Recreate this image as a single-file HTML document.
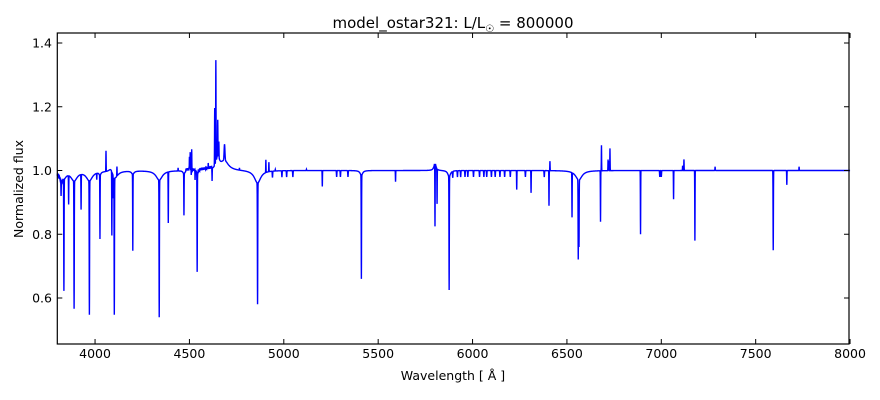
<!DOCTYPE html>
<html><head><meta charset="utf-8"><style>
body{margin:0;background:#fff;width:880px;height:400px;overflow:hidden}
svg{display:block;font-family:"DejaVu Sans","Liberation Sans",sans-serif}
</style></head><body>
<svg id="s" width="880" height="400" xmlns="http://www.w3.org/2000/svg">
<rect width="880" height="400" fill="#fff"/>
<text x="453" y="28" font-size="15" text-anchor="middle">model_ostar321: L/L<tspan font-size="10" dy="4">☉</tspan><tspan dy="-4"> = 800000</tspan></text>
<g id="plot"></g>
<rect x="57.3" y="33" width="791.7" height="311" fill="none" stroke="#000" stroke-width="1.2"/>
<g id="ticks" stroke="#000" stroke-width="1"></g>
<g font-size="12.5" text-anchor="middle" id="xl"></g>
<g font-size="12.5" text-anchor="end" id="yl"></g>
<text x="453" y="380" font-size="12.5" text-anchor="middle">Wavelength [ Å ]</text>
<text transform="translate(23,189) rotate(-90)" font-size="12.5" text-anchor="middle">Normalized flux</text>
</svg>
<script>
var X=w=>57.3+(w-3800)*0.18875, Y=f=>170.5-(f-1)*318.75;
var ns="http://www.w3.org/2000/svg";
function el(p,t,a,txt){var e=document.createElementNS(ns,t);for(var k in a)e.setAttribute(k,a[k]);if(txt)e.textContent=txt;document.getElementById(p).appendChild(e);}
for(var w=4000;w<=8000;w+=500){el("ticks","line",{x1:X(w),x2:X(w),y1:344,y2:339});el("ticks","line",{x1:X(w),x2:X(w),y1:33,y2:38});el("xl","text",{x:X(w),y:358},""+w);}
for(var f=0.6;f<=1.41;f+=0.2){el("ticks","line",{x1:57.3,x2:62.3,y1:Y(f),y2:Y(f)});el("ticks","line",{x1:849,x2:844,y1:Y(f),y2:Y(f)});el("yl","text",{x:52,y:Y(f)+4.5},f.toFixed(1));}
var L=[[3835,-0.35,1.3],[3889,-0.40,1.3],[3970,-0.42,1.3],[4026,-0.20,1],[4102,-0.43,1.3],[4089,-0.2,1],[4097,-0.07,1],[4200,-0.24,1],[4340,-0.43,1.3],[4388,-0.16,1],[4471,-0.13,1],[4541,-0.31,1.2],[4861,-0.38,1.3],[5411,-0.325,1.2],[5876,-0.355,1.2],[5801,-0.2,1],[5812,-0.11,1],[6560,-0.25,1.2],[6564,-0.21,1.2],[6527,-0.14,1],[6678,-0.16,1],[6890,-0.2,1],[7065,-0.09,1],[7178,-0.22,1],[7593,-0.25,1.2],[7665,-0.045,1],[5204,-0.05,1],[5592,-0.035,1],[6405,-0.11,1],[6310,-0.07,1],[6234,-0.06,1],[3820,-0.05,1],[3860,-0.09,1],[3926,-0.11,1],[4009,-0.02,1],[4620,-0.04,1],[4530,-0.03,1],[4510,-0.02,1],
[4058,0.065,1],[4116,0.03,1],[4634,0.18,1.2],[4640,0.32,1.2],[4650,0.11,1.2],[4656,0.05,1],[4686,0.05,3],[4500,0.035,1],[4504,0.05,1],[4512,0.06,1],[4905,0.04,1],[4921,0.03,1],[6683,0.08,1],[6718,0.035,1],[6728,0.07,1],[6721,0.03,1],[7120,0.035,1],[7113,0.015,1],[6410,0.03,1],[7285,0.012,1],[7730,0.012,1],[4600,0.015,1],[4440,0.01,1],[4765,0.007,1],[5120,0.004,1],[4955,0.005,1]];
var W=[[3835,15,-0.02],[3889,20,-0.03],[3970,20,-0.03],[4102,20,-0.03],[4340,20,-0.03],[4861,20,-0.04],[6563,20,-0.03],[5876,8,-0.02],[5411,8,-0.015],[4541,8,-0.015],[4200,8,-0.01],[4686,25,0.03],[4085,15,0.02],[4650,10,0.04],[5801,6,0.025],[3820,8,-0.015],[4026,6,-0.01],[4471,6,-0.01]];
var small=[4990,5015,5048,5280,5300,5340,5895,5920,5937,5960,5975,6005,6037,6060,6075,6100,6120,6145,6170,6200,6280,6380,6992,7000,4940];
var d="";
for(var w=3800;w<=8000;w+=0.5){var f=1;
if(w<3830)f-=0.01*Math.abs(Math.sin(w));
if(w>4480&&w<4620)f+=0.005+0.004*Math.sin(w*3.1);
for(var i=0;i<L.length;i++){var t=(w-L[i][0])/L[i][2];if(t*t<30)f+=L[i][1]*Math.exp(-t*t);}
for(var i=0;i<W.length;i++){var t=(w-W[i][0])/W[i][1];f+=W[i][2]/(1+t*t);}
for(var i=0;i<small.length;i++){var t=(w-small[i])/1.5;if(t*t<30)f-=0.02*Math.exp(-t*t);}
d+=(d?"L":"M")+X(w).toFixed(2)+" "+Y(f).toFixed(2);}
el("plot","path",{d:d,fill:"none",stroke:"#0000ff","stroke-width":1.4});
</script>
</body></html>
